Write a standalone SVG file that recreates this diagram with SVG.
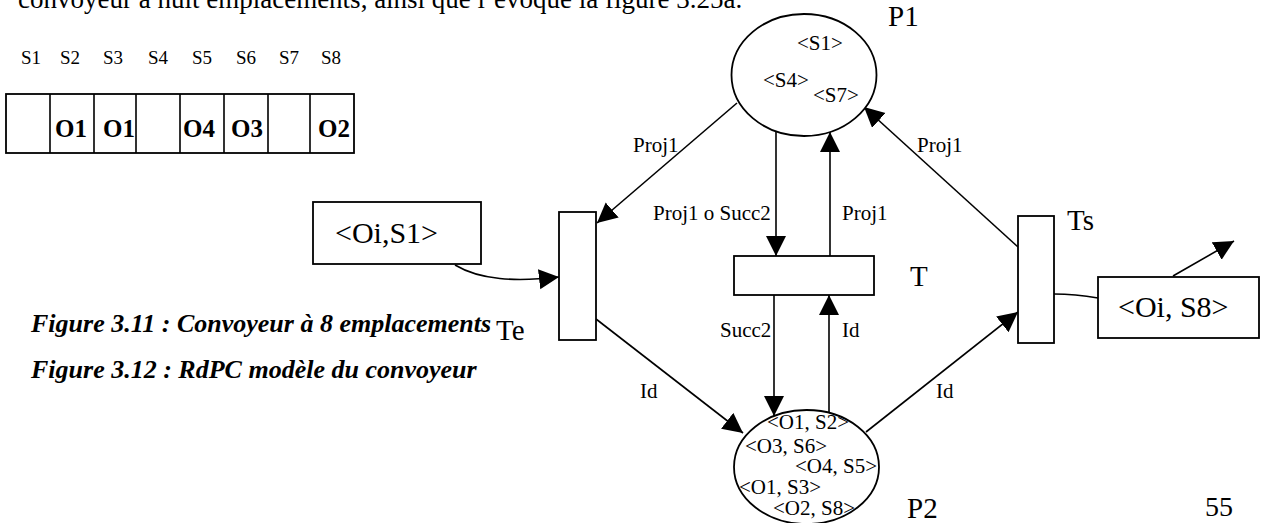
<svg xmlns="http://www.w3.org/2000/svg" width="1263" height="523" viewBox="0 0 1263 523">
  <style>
    .txt { font-family: "Liberation Serif", "Times New Roman", serif; fill: #000; }
    .body { font-size: 27px; }
    .cap { font-size: 26px; font-weight: bold; font-style: italic; }
    .slot { font-size: 19px; }
    .obj { font-size: 25px; font-weight: bold; }
    .tok { font-size: 21px; }
    .arc { font-size: 21px; }
    .name { font-size: 29px; }
    .mark { font-size: 30px; }
    .page { font-size: 28px; }
    .shape { fill: #fff; stroke: #000; stroke-width: 1.8; }
    .edge { fill: none; stroke: #000; stroke-width: 1.6; }
  </style>
  <defs>
    <marker id="arrow" markerUnits="userSpaceOnUse" markerWidth="21" markerHeight="21" refX="20" refY="10" orient="auto">
      <path d="M0,0 L20,10 L0,20 Z" fill="#000"/>
    </marker>
  </defs>
  <rect width="1263" height="523" fill="#fff"/>

  <!-- running text of the page, clipped by the top border -->
  <text class="txt body" x="18" y="8">convoyeur à huit emplacements, ainsi que l’évoque la figure 3.25a.</text>

  <!-- conveyor slots -->
  <g id="conveyor">
    <g class="txt slot">
      <text x="21" y="64">S1</text>
      <text x="60" y="64">S2</text>
      <text x="103" y="64">S3</text>
      <text x="148" y="64">S4</text>
      <text x="192" y="64">S5</text>
      <text x="236" y="64">S6</text>
      <text x="279" y="64">S7</text>
      <text x="321" y="64">S8</text>
    </g>
    <rect class="shape" x="6" y="94" width="348" height="59"/>
    <path class="edge" d="M50,94 V153 M94,94 V153 M136,94 V153 M180,94 V153 M224,94 V153 M268,94 V153 M310,94 V153"/>
    <g class="txt obj">
      <text x="55" y="137">O1</text>
      <text x="103" y="137">O1</text>
      <text x="183" y="137">O4</text>
      <text x="231" y="137">O3</text>
      <text x="318" y="137">O2</text>
    </g>
  </g>

  <!-- captions -->
  <text class="txt cap" x="31" y="332">Figure 3.11 : Convoyeur à 8 emplacements</text>
  <text class="txt cap" x="31" y="378">Figure 3.12 : RdPC modèle du convoyeur</text>

  <!-- connectors -->
  <g id="connectors">
    <path class="edge" d="M737,103 L597,223" marker-end="url(#arrow)"/>
    <path class="edge" d="M776,132 L776,256" marker-end="url(#arrow)"/>
    <path class="edge" d="M830,256 L830,132" marker-end="url(#arrow)"/>
    <path class="edge" d="M774,295 L774,416" marker-end="url(#arrow)"/>
    <path class="edge" d="M829,413 L829,295" marker-end="url(#arrow)"/>
    <path class="edge" d="M596,319 L743,433" marker-end="url(#arrow)"/>
    <path class="edge" d="M866,432 L1018,312" marker-end="url(#arrow)"/>
    <path class="edge" d="M1018,247 L864,107" marker-end="url(#arrow)"/>
    <path class="edge" d="M455,265 C480,280 515,282 559,277" marker-end="url(#arrow)"/>
    <path class="edge" d="M1054,294 Q1075,294 1098,298"/>
    <path class="edge" d="M1173,276 L1234,241" marker-end="url(#arrow)"/>
    <g class="txt arc">
      <text x="633" y="152">Proj1</text>
      <text x="653" y="220">Proj1 o Succ2</text>
      <text x="842" y="220">Proj1</text>
      <text x="917" y="152">Proj1</text>
      <text x="720" y="337">Succ2</text>
      <text x="842" y="337">Id</text>
      <text x="640" y="398">Id</text>
      <text x="936" y="398">Id</text>
    </g>
  </g>

  <!-- place P1 -->
  <g id="P1">
    <ellipse class="shape" cx="804" cy="75" rx="72.5" ry="61"/>
    <g class="txt tok">
      <text x="797" y="50">&lt;S1&gt;</text>
      <text x="763" y="87">&lt;S4&gt;</text>
      <text x="813" y="102">&lt;S7&gt;</text>
    </g>
    <text class="txt name" x="888" y="26">P1</text>
  </g>

  <!-- place P2 -->
  <g id="P2">
    <ellipse class="shape" cx="806.5" cy="467" rx="72.5" ry="57"/>
    <g class="txt tok">
      <text x="767" y="429">&lt;O1, S2&gt;</text>
      <text x="745" y="453">&lt;O3, S6&gt;</text>
      <text x="795" y="473">&lt;O4, S5&gt;</text>
      <text x="739" y="494">&lt;O1, S3&gt;</text>
      <text x="773" y="515">&lt;O2, S8&gt;</text>
    </g>
    <text class="txt name" x="907" y="518">P2</text>
  </g>

  <!-- transition T -->
  <g id="T">
    <rect class="shape" x="734" y="256" width="140" height="39"/>
    <text class="txt name" x="910" y="286">T</text>
  </g>

  <!-- transition Te -->
  <g id="Te">
    <rect class="shape" x="559" y="212" width="37" height="128"/>
    <text class="txt name" x="496" y="340">Te</text>
  </g>

  <!-- transition Ts -->
  <g id="Ts">
    <rect class="shape" x="1018" y="216" width="36" height="127"/>
    <text class="txt name" x="1067" y="230">Ts</text>
  </g>

  <!-- input token -->
  <g id="input">
    <rect class="shape" x="313" y="202" width="168" height="62"/>
    <text class="txt mark" x="335" y="243">&lt;Oi,S1&gt;</text>
  </g>

  <!-- output token -->
  <g id="output">
    <rect class="shape" x="1098" y="277" width="161" height="61"/>
    <text class="txt mark" x="1118" y="317">&lt;Oi, S8&gt;</text>
  </g>

  <!-- page number -->
  <text class="txt page" x="1205" y="516">55</text>
</svg>
